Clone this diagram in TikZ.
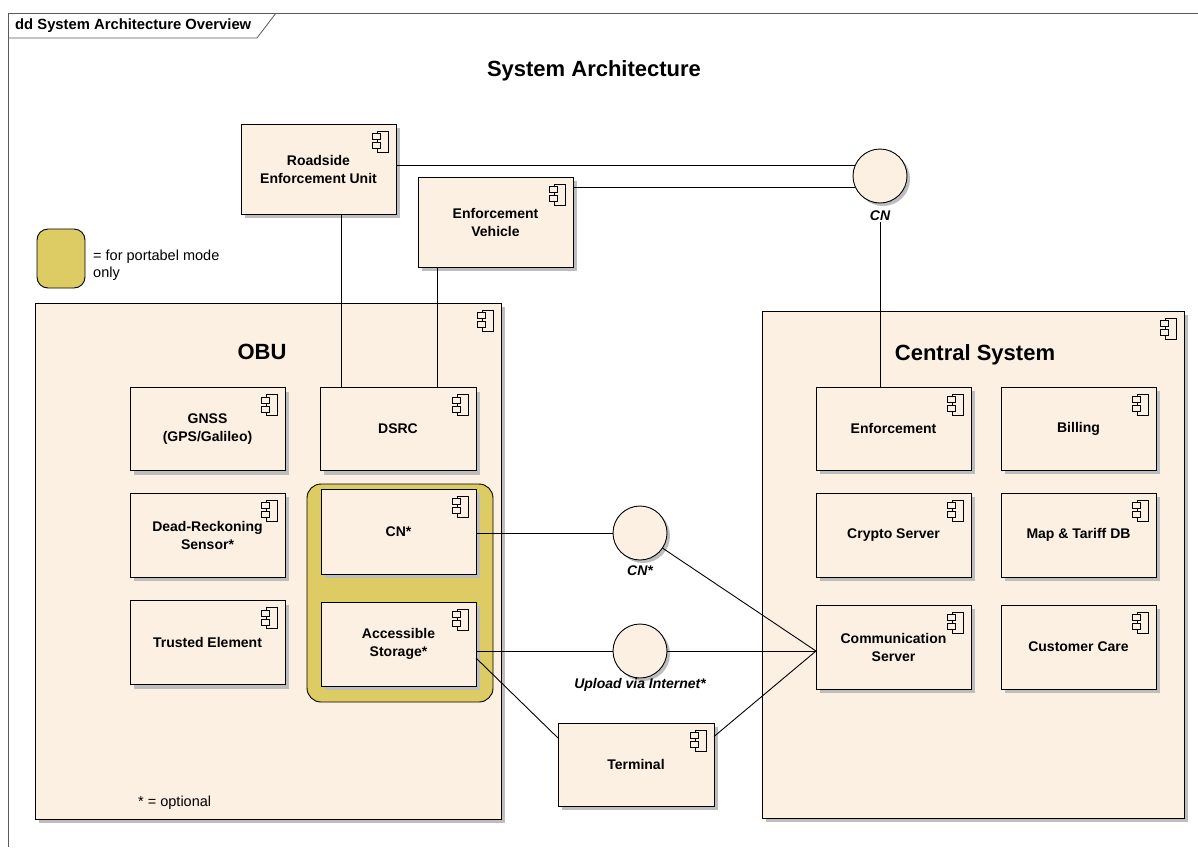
\documentclass[tikz,border=0pt]{standalone}
\usepackage{fontspec}
\setmainfont{Liberation Sans}
\usetikzlibrary{shadows}

\definecolor{compfill}{HTML}{FBF0E2}
\definecolor{portable}{HTML}{DDCB64}
\definecolor{shadowgray}{HTML}{BDBDBD}
\definecolor{framegray}{HTML}{5A5A5A}

\tikzset{
  boxshadow/.style={drop shadow={shadow xshift=4pt, shadow yshift=-4pt, fill=shadowgray, opacity=1}},
  comp/.style={draw, fill=compfill, line width=0.9pt, boxshadow, outer sep=0pt, inner sep=2pt,
    minimum width=155pt, minimum height=84pt, align=center,
    font=\fontsize{14}{18}\selectfont\bfseries},
  bigcomp/.style={comp, font=\fontsize{22}{26}\selectfont\bfseries},
  iface/.style={circle, draw, fill=compfill, line width=0.9pt, minimum size=54pt, inner sep=0pt, outer sep=0pt,
    drop shadow={shadow xshift=3pt, shadow yshift=-3pt, fill=shadowgray, opacity=1}},
  ifacelabel/.style={font=\fontsize{14}{16}\selectfont\bfseries\itshape, inner sep=1pt},
  conn/.style={line width=0.9pt},
  plain/.style={font=\fontsize{14.5}{17.5}\selectfont, align=left, inner sep=0pt},
  compicon/.pic={
    \draw[line width=0.7pt, fill=compfill] (-19,7) rectangle (-8,28);
    \draw[line width=0.7pt, fill=compfill] (-23.5,9.5) rectangle (-15.5,15.5);
    \draw[line width=0.7pt, fill=compfill] (-23.5,18.5) rectangle (-15.5,24.5);
  }
}

\begin{document}
\begin{tikzpicture}[x=1pt, y=-1pt]
\useasboundingbox (0,0) rectangle (1198,847);
\fill[white] (0,0) rectangle (1198,847);

% diagram frame with its name tab
\draw[framegray, line width=0.8pt] (8,847) -- (8,13) -- (1198,13);
\draw[framegray, line width=0.8pt] (8,38) -- (257,38) -- (276,13);
\node[anchor=west, font=\fontsize{14.8}{16}\selectfont\bfseries, inner sep=0pt] (frametitle) at (15,25.5) {dd System Architecture Overview};

\node[font=\fontsize{22}{26}\selectfont\bfseries] (title) at (594,71) {System Architecture};

% legend
\node[draw, fill=portable, line width=0.9pt, rounded corners=11pt, minimum width=48pt, minimum height=59pt] (legendswatch) at (61,258.5) {};
\node[plain, anchor=west] (legendtext) at (93,265) {= for portabel mode\\only};

% enforcement side
\node[comp, minimum height=90pt] (ru) at (318.5,169) {Roadside\\Enforcement Unit};
\node[comp, minimum height=90pt] (ev) at (495.5,222) {Enforcement\\Vehicle};
\node[iface] (cn) at (880,176) {};
\node[ifacelabel] (cnlab) at (880,216) {CN};

% on-board unit
\node[bigcomp, minimum width=466pt, minimum height=516pt] (obu) at (268,561) {};
\node[font=\fontsize{22}{26}\selectfont\bfseries] (obulab) at (262,352) {OBU};
\node[comp, minimum height=83pt] (gnss) at (207.5,429) {GNSS\\(GPS/Galileo)};
\node[comp, minimum width=156pt, minimum height=83pt] (dsrc) at (398,429) {DSRC};
\node[comp] (dead) at (207.5,535) {Dead-Reckoning\\Sensor*};
\node[comp] (trusted) at (207.5,642.5) {Trusted Element};
\node[draw, fill=portable, line width=0.9pt, rounded corners=14pt, minimum width=186pt, minimum height=218pt] (portgroup) at (400,593) {};
\node[comp, minimum height=85pt] (cnb) at (398.5,531.5) {CN*};
\node[comp] (acc) at (398.5,644) {Accessible\\Storage*};
\node[plain, anchor=west] (optnote) at (138,803) {* = optional};

% central system
\node[bigcomp, minimum width=422pt, minimum height=507pt] (central) at (973,564.5) {};
\node[font=\fontsize{22}{26}\selectfont\bfseries] (centrallab) at (975,355) {Central System};
\node[comp, minimum height=83pt] (enf) at (893.5,428.5) {Enforcement};
\node[comp, minimum height=83pt] (bill) at (1078.5,428.5) {Billing};
\node[comp] (crypto) at (893.5,535) {Crypto Server};
\node[comp] (map) at (1078.5,535) {Map \& Tariff DB};
\node[comp] (comm) at (893.5,647) {Communication\\Server};
\node[comp] (cust) at (1078.5,647) {Customer Care};

% interfaces between OBU and central system
\node[iface] (cnst) at (640,533) {};
\node[ifacelabel] (cnstlab) at (640,571) {CN*};
\node[iface] (up) at (640,651) {};
\node[ifacelabel] (uplab) at (640,685) {Upload via Internet*};
\node[comp, minimum width=156pt, minimum height=83pt] (term) at (636,764.5) {Terminal};

% component icons
\foreach \n in {ru,ev,obu,gnss,dsrc,dead,trusted,cnb,acc,central,enf,bill,crypto,map,comm,cust,term}
  \pic at (\n.north east) {compicon};

% connectors
\draw[conn] ([xshift=22.5pt]ru.south) -- ([xshift=22.5pt]ru.south |- dsrc.north);
\draw[conn] ([xshift=-58.5pt]ev.south) -- ([xshift=-58.5pt]ev.south |- dsrc.north);
\draw[conn] (cn.158) -- (cn.158 -| ru.east);
\draw[conn] (cn.204) -- (cn.204 -| ev.east);
\draw[conn] (cnlab.south) -- (cnlab.south |- enf.north);

\coordinate (commin) at ([yshift=-4pt]comm.west);
\draw[conn] (cnst.west) -- (cnst.west -| cnb.east);
\draw[conn] (cnst) -- (commin);
\draw[conn] (up.west) -- (up.west -| acc.east);
\draw[conn] (up.east) -- (commin);
\draw[conn] ([yshift=-14pt]acc.east) -- ([yshift=26.5pt]term.west);
\draw[conn] ([yshift=28pt]term.east) -- (commin);
\end{tikzpicture}
\end{document}
